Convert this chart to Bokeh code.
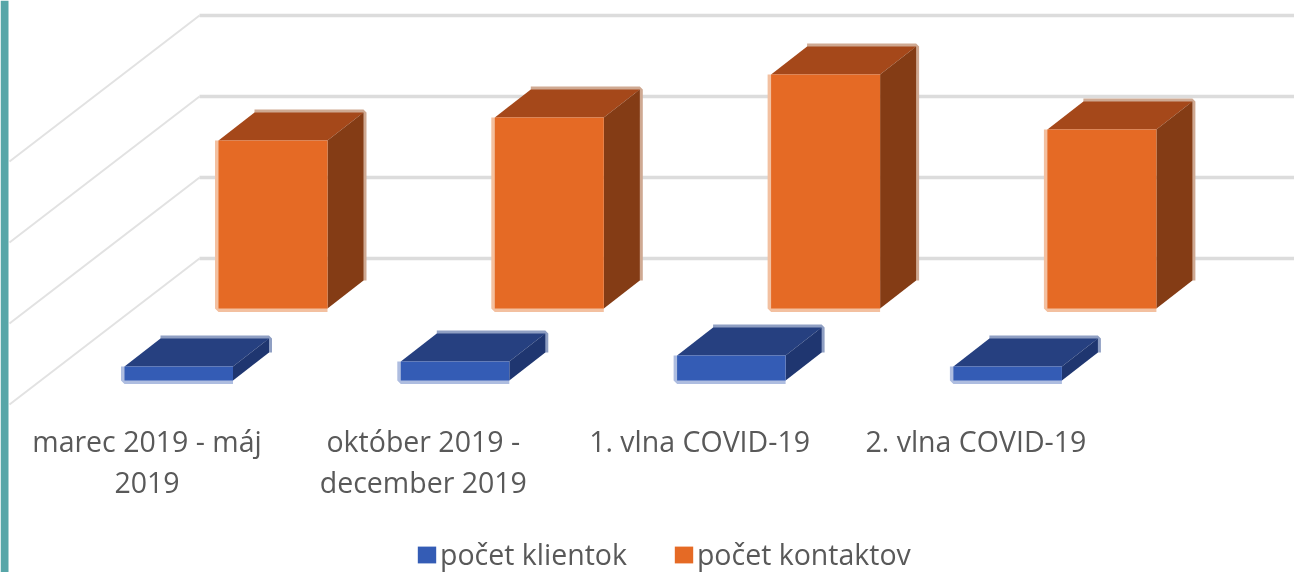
from bokeh.plotting import figure
from bokeh.models import Legend, LegendItem
from bokeh.core.properties import value
from bokeh.embed import file_html
from bokeh.resources import INLINE

tick_labels = ["marec 2019 - máj\n2019", "október 2019 -\ndecember 2019", "1. vlna COVID-19", "2. vlna COVID-19"]
klienti = [173, 235, 309, 173]
kontakty = [2074, 2358, 2889, 2210]
grid_values = [0, 1000, 2000, 3000]
legend_labels = ["počet klientok", "počet kontaktov"]

W, H = 1294, 572
PX_X = 276.3          # pixels per category
PX_Y = 81.0 / 1000.0  # pixels per unit of value
ux = 1 / PX_X
uy = 1 / PX_Y

p = figure(width=W, height=H, output_backend="svg", toolbar_location=None,
           x_range=(-218 * ux, (W - 218) * ux), y_range=(-(H - 308) * uy, 308 * uy),
           min_border=0, outline_line_color=None, background_fill_color="white")
p.axis.visible = False
p.grid.visible = False
p.styles = {"position": "absolute", "left": "0", "top": "0", "filter": "blur(0.7px)"}

# teal strip at the page edge
p.quad(left=[-218 * ux], right=[-210 * ux], bottom=[-(H - 308) * uy], top=[308 * uy],
       fill_color="#57a6a8", line_color=None)

# 3D grid: back wall and floor-side lines
wall_dx, wall_dy = -19 * ux, 50 * uy
diag_dx, diag_dy = -190 * ux, -146 * uy
p.multi_line(xs=[[wall_dx, (W - 218) * ux] for _ in grid_values],
             ys=[[g + wall_dy, g + wall_dy] for g in grid_values],
             line_color="#dcdcdc", line_width=3.5)
p.multi_line(xs=[[wall_dx, wall_dx + diag_dx] for _ in grid_values],
             ys=[[g + wall_dy, g + wall_dy + diag_dy] for g in grid_values],
             line_color="#e2e2e2", line_width=2)


def box(values, off_x, off_y, width, colors, edge_a, edge_b):
    dx, dy = 36 * ux, 28 * uy
    front_x, front_y, top_x, top_y, side_x, side_y = [], [], [], [], [], []
    edge1_x, edge1_y, edge2_x, edge2_y = [], [], [], []
    for i, v in enumerate(values):
        x0, x1 = i + off_x, i + off_x + width
        y0, y1 = off_y, off_y + v
        front_x.append([x0, x1, x1, x0]); front_y.append([y0, y0, y1, y1])
        top_x.append([x0, x1, x1 + dx, x0 + dx]); top_y.append([y1, y1, y1 + dy, y1 + dy])
        side_x.append([x1, x1 + dx, x1 + dx, x1]); side_y.append([y0, y0 + dy, y1 + dy, y1])
        edge1_x.append([x0, x0, x1]); edge1_y.append([y1, y0, y0])
        edge2_x.append([x1 + dx, x1 + dx, x0 + dx]); edge2_y.append([y0 + dy, y1 + dy, y1 + dy])
    p.multi_line(xs=edge1_x, ys=edge1_y, line_color=edge_a, line_width=7)
    p.multi_line(xs=edge2_x, ys=edge2_y, line_color=edge_b, line_width=6)
    p.patches(top_x, top_y, fill_color=colors[1], line_color=None)
    p.patches(side_x, side_y, fill_color=colors[2], line_color=None)
    return p.patches(front_x, front_y, fill_color=colors[0], line_color=None)


r_kontakty = box(kontakty, 0, 0, 109 * ux, ("#e56a25", "#a5481a", "#843c15"), "#f3c0a0", "#cfa992")
r_klienti = box(klienti, -94 * ux, -72 * uy, 108.5 * ux, ("#345cb5", "#264080", "#1f3670"), "#aebde0", "#8f9fc3")

# category labels
p.text(x=[i - 71.5 * ux for i in range(4)], y=[(308 - 421) * uy] * 4, text=tick_labels,
       text_font=value("Open Sans"), text_font_size="28.5px", text_color="#595959",
       text_align="center", text_baseline="top", text_line_height=1.09)

legend = Legend(items=[LegendItem(label=legend_labels[0], renderers=[r_klienti]),
                       LegendItem(label=legend_labels[1], renderers=[r_kontakty])],
                orientation="horizontal", location=(415, -1), padding=0, margin=0, spacing=45,
                glyph_width=23, glyph_height=21, label_standoff=2, background_fill_alpha=0,
                border_line_color=None, label_text_font="Open Sans", label_text_font_size="28.5px",
                label_text_color="#595959")
p.add_layout(legend, "center")

open("out.html", "w").write(file_html(p, INLINE))
